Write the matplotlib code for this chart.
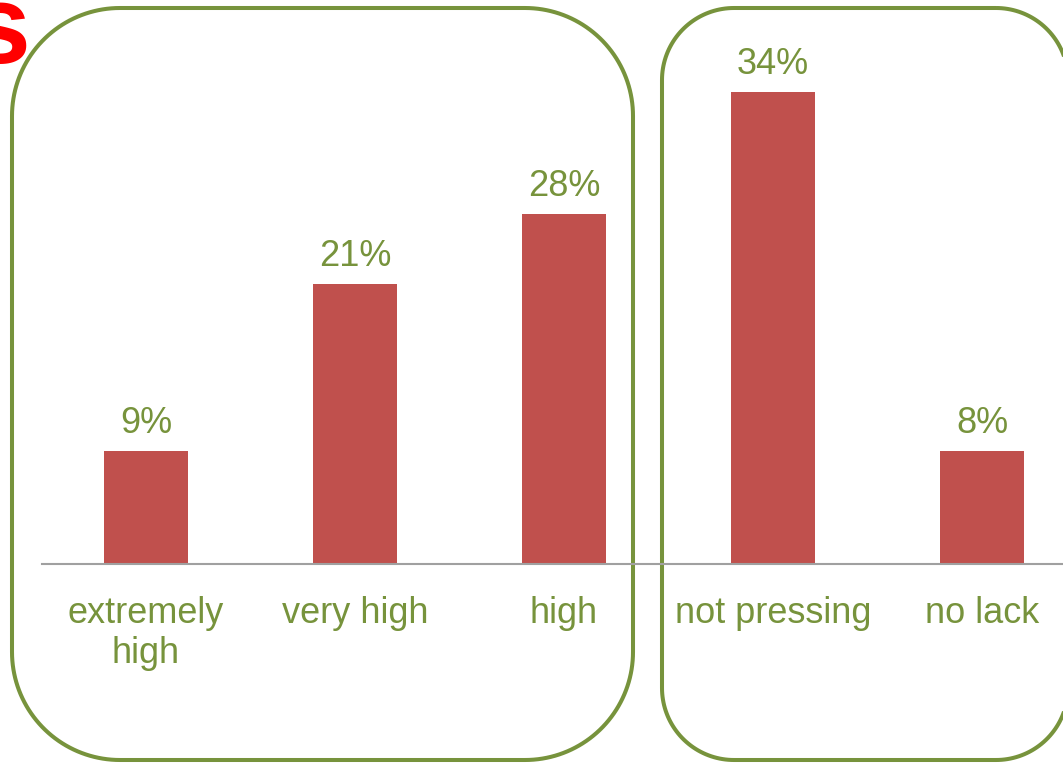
import matplotlib
matplotlib.use("Agg")
import numpy as np
import matplotlib.pyplot as plt
from matplotlib.patches import Polygon

plt.rcParams['font.family'] = ['Liberation Sans', 'DejaVu Sans']

categories = ['extremely\nhigh', 'very high', 'high', 'not pressing', 'no lack']
values = [8.5, 21.05, 26.3, 35.5, 8.5]          # bar heights
value_labels = ['9%', '21%', '28%', '34%', '8%']

GREEN = '#77933C'
BAR = '#C0504D'
GRAY = '#A0A0A0'

W, H = 1063, 764
fig = plt.figure(figsize=(W / 100, H / 100), dpi=100)


def rounded_rect(x0, y0, w, h, r, n=40):
    """Polyline outline of a rounded rectangle (pixel units, y down)."""
    pts = []
    corners = [(x0 + w - r, y0 + r, -90, 0),      # top-right
               (x0 + w - r, y0 + h - r, 0, 90),   # bottom-right
               (x0 + r, y0 + h - r, 90, 180),     # bottom-left
               (x0 + r, y0 + r, 180, 270)]        # top-left
    for cx, cy, a0, a1 in corners:
        t = np.radians(np.linspace(a0, a1, n))
        pts.extend(zip(cx + r * np.cos(t), cy + r * np.sin(t)))
    return np.array(pts)


# background overlay for the rounded frames, in pixel units
bg = fig.add_axes([0, 0, 1, 1], zorder=0)
bg.set_xlim(0, W)
bg.set_ylim(H, 0)
bg.axis('off')
bg.add_patch(Polygon(rounded_rect(12, 8, 621, 752, 108), closed=True,
                     fill=False, edgecolor=GREEN, linewidth=2.9))
bg.add_patch(Polygon(rounded_rect(662, 8, 406, 752, 72), closed=True,
                     fill=False, edgecolor=GREEN, linewidth=2.9,
                     clip_on=False))
bg.text(30, 63, 's', color='#FF0000', fontsize=80, fontweight='bold',
        ha='right', va='baseline')

# chart axes
step = 209
ax = fig.add_axes([41.5 / W, 200 / H, 5 * step / W, 532 / H], zorder=1)
ax.patch.set_alpha(0)
x = list(range(len(categories)))
bars = ax.bar(x, values, width=0.4, color=BAR)
ax.set_xlim(-0.5, len(categories) - 0.5)
ax.set_ylim(0, 40)
for s in ['top', 'left', 'right']:
    ax.spines[s].set_visible(False)
ax.spines['bottom'].set_color(GRAY)
ax.spines['bottom'].set_linewidth(1.5)
ax.set_yticks([])
ax.set_xticks(x)
ax.set_xticklabels(categories, fontsize=26, color=GREEN, linespacing=1.2)
ax.tick_params(axis='x', length=0, pad=23)

for b, lab in zip(bars, value_labels):
    ax.annotate(lab, (b.get_x() + b.get_width() / 2, b.get_height()),
                xytext=(0, 7), textcoords='offset points',
                ha='center', va='bottom', fontsize=26, color=GREEN)

fig.savefig('out.png', dpi=100)
